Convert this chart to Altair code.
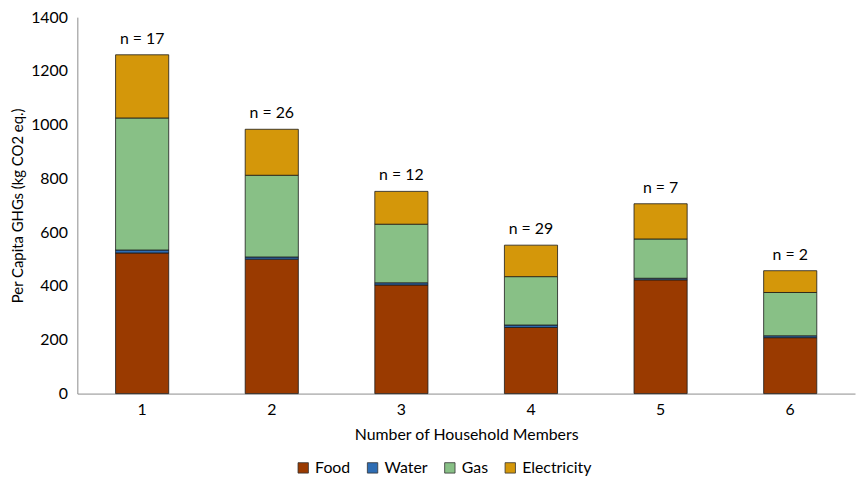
import altair as alt
import pandas as pd

members = ["1", "2", "3", "4", "5", "6"]
food = [523, 500, 404, 246, 423, 208]
water = [11, 8, 8, 9, 6, 7]
gas = [491, 304, 218, 180, 146, 161]
electricity = [235, 171, 122, 117, 131, 81]
n_labels = ["n = 17", "n = 26", "n = 12", "n = 29", "n = 7", "n = 2"]

sources = ["Food", "Water", "Gas", "Electricity"]
colors = ["#9a3a00", "#2e6db4", "#88c086", "#d4970a"]

rows = []
for i, m in enumerate(members):
    for k, (src, vals) in enumerate(zip(sources, [food, water, gas, electricity])):
        rows.append({"members": m, "source": src, "value": vals[i], "ord": k})
df = pd.DataFrame(rows)

tot = pd.DataFrame({
    "members": members,
    "total": [f + w + g + e for f, w, g, e in zip(food, water, gas, electricity)],
    "label": n_labels,
})

FONT = "Lato"
FS = 16

xenc = alt.X(
    "members:N",
    sort=members,
    title="Number of Household Members",
    scale=alt.Scale(paddingInner=0.59, paddingOuter=0.295),
    axis=alt.Axis(labelAngle=0, ticks=False, domainColor="#8c8c8c", labelPadding=8,
                  titlePadding=9),
)

bars = alt.Chart(df).mark_bar(stroke="#1a1a1a", strokeWidth=0.8).encode(
    x=xenc,
    y=alt.Y(
        "value:Q",
        stack="zero",
        title="Per Capita GHGs (kg CO2 eq.)",
        scale=alt.Scale(domain=[0, 1400], nice=False),
        axis=alt.Axis(values=list(range(0, 1401, 200)), format="d", ticks=False, grid=False,
                      domainColor="#8c8c8c", labelPadding=10, titlePadding=5,
                      titleFontSize=15),
    ),
    color=alt.Color(
        "source:N",
        sort=sources,
        scale=alt.Scale(domain=sources, range=colors),
        legend=alt.Legend(
            title=None, orient="none", direction="horizontal",
            legendX=220, legendY=447, symbolType="square", symbolSize=110,
            symbolStrokeColor="#333", symbolStrokeWidth=0.8,
            columnPadding=14, labelFontSize=FS, labelFont=FONT, labelColor="#000",
        ),
    ),
    order=alt.Order("ord:Q"),
)

text = alt.Chart(tot).mark_text(dy=-16, fontSize=FS, font=FONT, color="#000",
                                baseline="middle").encode(
    x=alt.X("members:N", sort=members),
    y=alt.Y("total:Q"),
    text="label:N",
)

chart = alt.layer(bars, text).properties(
    width=785, height=380,
    autosize=alt.AutoSizeParams(type="none"),
    padding={"left": 70, "top": 7, "right": 2, "bottom": 86},
).configure_view(stroke=None).configure_axis(
    labelFont=FONT, titleFont=FONT, labelFontSize=FS, titleFontSize=FS,
    labelColor="#000", titleColor="#000", titleFontWeight="normal",
)

chart.save("out.html", embed_options={"renderer": "svg", "actions": False})
